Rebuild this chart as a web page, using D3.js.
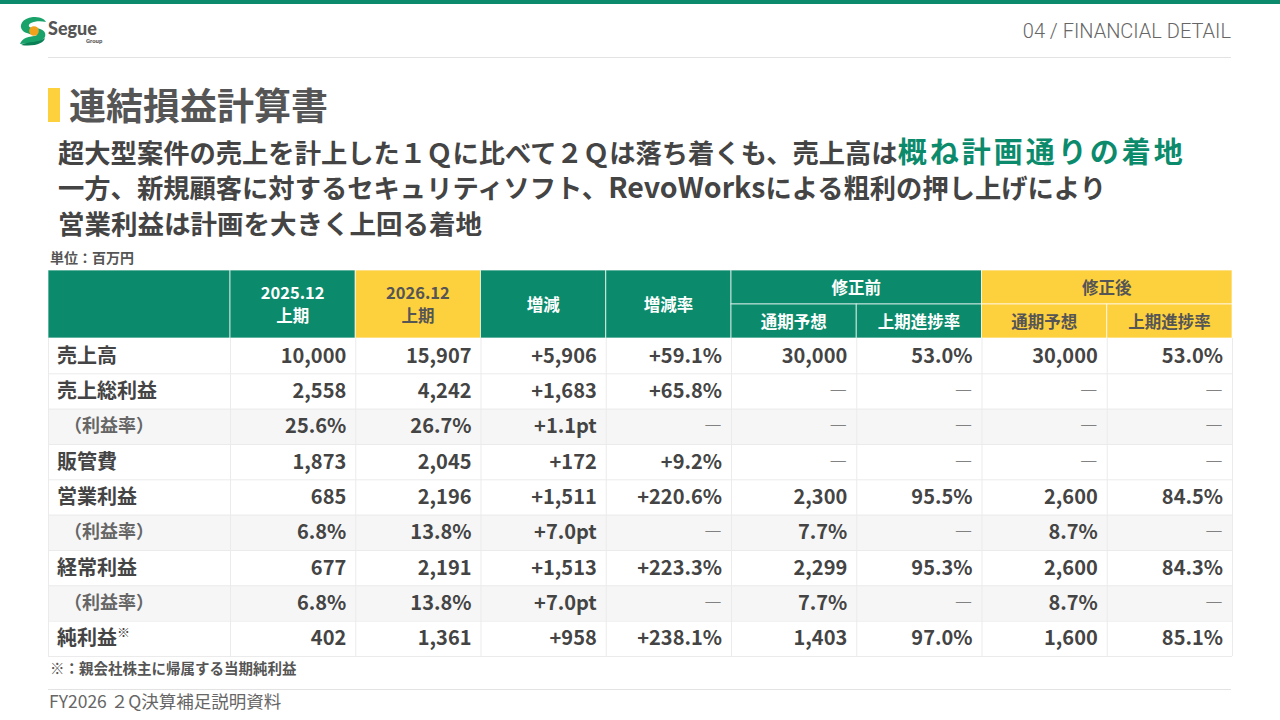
<!DOCTYPE html>
<html><head><meta charset="utf-8">
<script src="https://cdn.jsdelivr.net/npm/d3@7/dist/d3.min.js"></script>
<style>
html,body{margin:0;padding:0;background:#fff;}
svg{display:block;font-family:"Noto Sans CJK JP","Noto Sans",sans-serif;}
</style></head>
<body><svg id="c" width="1280" height="720"></svg>
<script>
// ---- data ----
const rowLabels = ["売上高","売上総利益","（利益率）","販管費","営業利益","（利益率）","経常利益","（利益率）","純利益"];
const rowKinds  = ["amt","amt","pct","amt","amt","pct","amt","pct","amt"];
const prevH1    = [10000, 2558, 25.6, 1873, 685, 6.8, 677, 6.8, 402];
const currH1    = [15907, 4242, 26.7, 2045, 2196, 13.8, 2191, 13.8, 1361];
const change    = [5906, 1683, 1.1, 172, 1511, 7.0, 1513, 7.0, 958];
const changeRate= [59.1, 65.8, null, 9.2, 220.6, null, 223.3, null, 238.1];
const beforeFcst= [30000, null, null, null, 2300, 7.7, 2299, 7.7, 1403];
const beforeProg= [53.0, null, null, null, 95.5, null, 95.3, null, 97.0];
const afterFcst = [30000, null, null, null, 2600, 8.7, 2600, 8.7, 1600];
const afterProg = [53.0, null, null, null, 84.5, null, 84.3, null, 85.1];
const colKeys = ["prev","curr","chg","rate","bf","bp","af","ap"];

const GREEN="#0b8b6c", YELLOW="#fdd03e", TXT="#444";
const svg=d3.select("#c");

// top bar
svg.append("rect").attr("x",0).attr("y",0).attr("width",1280).attr("height",4).attr("fill",GREEN);
// logo
const lg=svg.append("g").attr("transform","translate(18,16)");
lg.append("path").attr("d","M15,1 C4,2 0,10 5,15 C8,18 15,18 19,20 C11,20 4,22 2,28 C11,27 23,28 27,21 C29,15 23,12 15,12 C11,12 9,9 13,7 C17,5 23,5 28,6 C26,2 21,1 15,1 Z").attr("fill","#19a36b");
lg.append("path").attr("d","M3,29 C10,25 21,27 27,22 C26,27 17,31 3,29 Z").attr("fill","#0b7f55");
lg.append("circle").attr("cx",16).attr("cy",15).attr("r",4.8).attr("fill","#f0a21c");
lg.append("text").attr("x",30).attr("y",19).attr("font-size",18).attr("font-weight",900).attr("fill","#555").attr("font-family","Lato, Roboto, sans-serif").text("Segue");
lg.append("text").attr("x",68).attr("y",27).attr("font-size",6).attr("font-weight",700).attr("fill","#555").attr("font-family","Roboto, sans-serif").text("Group");

svg.append("text").attr("x",1231).attr("y",38).attr("text-anchor","end").attr("font-size",20).attr("fill","#666").attr("font-weight",300).attr("font-family","Roboto, 'Noto Sans', sans-serif").text("04 / FINANCIAL DETAIL");
svg.append("line").attr("x1",48).attr("x2",1231).attr("y1",57.5).attr("y2",57.5).attr("stroke","#e3e3e3");

// title
svg.append("rect").attr("x",48).attr("y",88).attr("width",12).attr("height",34).attr("fill",YELLOW);
svg.append("text").attr("x",69).attr("y",120).attr("font-size",37).attr("font-weight",700).attr("fill","#555").text("連結損益計算書");

// subtitle
const sub=[[["超大型案件の売上を計上した１Ｑに比べて２Ｑは落ち着くも、売上高は",TXT,26.3,0],["概ね計画通りの着地",GREEN,29,3]]
,[["一方、新規顧客に対するセキュリティソフト、",TXT,26.3,0],["RevoWorks",TXT,28.5,0],["による粗利の押し上げにより",TXT,26.3,0]]
,[["営業利益は計画を大きく上回る着地",TXT,26.5,0]]];
const subY=[163,198,234];
sub.forEach((ln,i)=>{
  const t=svg.append("text").attr("x",58).attr("y",subY[i]).attr("font-weight",700);
  ln.forEach(s=>t.append("tspan").attr("fill",s[1]).attr("font-size",s[2]).attr("letter-spacing",s[3]).text(s[0]));
});

svg.append("text").attr("x",50).attr("y",263).attr("font-size",14).attr("font-weight",700).attr("fill","#555").text("単位：百万円");

// table scales
const tableL=48, firstW=182, tableR=1232;
const x=d3.scaleBand().domain(colKeys).range([tableL+firstW,tableR]);
const y=d3.scaleBand().domain(d3.range(rowLabels.length)).range([338,656]);
const hTop=270, hMid=304, hBot=338;

// header cells
const hdr=[
 {x0:tableL,x1:x("prev"),y0:hTop,y1:hBot,fill:GREEN,lines:[]},
 {x0:x("prev"),x1:x("curr"),y0:hTop,y1:hBot,fill:GREEN,lines:["2025.12","上期"]},
 {x0:x("curr"),x1:x("chg"),y0:hTop,y1:hBot,fill:YELLOW,lines:["2026.12","上期"],dark:true},
 {x0:x("chg"),x1:x("rate"),y0:hTop,y1:hBot,fill:GREEN,lines:["増減"]},
 {x0:x("rate"),x1:x("bf"),y0:hTop,y1:hBot,fill:GREEN,lines:["増減率"]},
 {x0:x("bf"),x1:x("af"),y0:hTop,y1:hMid,fill:GREEN,lines:["修正前"]},
 {x0:x("bf"),x1:x("bp"),y0:hMid,y1:hBot,fill:GREEN,lines:["通期予想"]},
 {x0:x("bp"),x1:x("af"),y0:hMid,y1:hBot,fill:GREEN,lines:["上期進捗率"]},
 {x0:x("af"),x1:tableR,y0:hTop,y1:hMid,fill:YELLOW,lines:["修正後"],dark:true},
 {x0:x("af"),x1:x("ap"),y0:hMid,y1:hBot,fill:YELLOW,lines:["通期予想"],dark:true},
 {x0:x("ap"),x1:tableR,y0:hMid,y1:hBot,fill:YELLOW,lines:["上期進捗率"],dark:true}
];
const hg=svg.append("g");
hdr.forEach(h=>{
  hg.append("rect").attr("x",h.x0).attr("y",h.y0).attr("width",h.x1-h.x0).attr("height",h.y1-h.y0)
    .attr("fill",h.fill).attr("stroke","#fff").attr("stroke-opacity",0.7).attr("stroke-width",1);
  const cx=(h.x0+h.x1)/2, cy=(h.y0+h.y1)/2, n=h.lines.length;
  h.lines.forEach((s,i)=>{
    hg.append("text").attr("x",cx).attr("y",cy+(i-(n-1)/2)*23+6.5).attr("text-anchor","middle")
      .attr("font-size",16.5).attr("font-weight",700).attr("fill",h.dark?"#555":"#fff").text(s);
  });
});

// formatting
const fInt=d3.format(",");
function fmt(v,kind,col){
  if(v==null) return "―";
  const sign=(col==="chg"||col==="rate")?"+":"";
  if(col==="rate") return sign+v.toFixed(1)+"%";
  if(kind==="pct") return col==="chg"? sign+v.toFixed(1)+"pt" : v.toFixed(1)+"%";
  if(col==="bp"||col==="ap") return v.toFixed(1)+"%";
  return sign+fInt(v);
}
const cols={prev:prevH1,curr:currH1,chg:change,rate:changeRate,bf:beforeFcst,bp:beforeProg,af:afterFcst,ap:afterProg};

// body
const bg=svg.append("g");
rowLabels.forEach((lab,i)=>{
  const y0=y(i), h=y.bandwidth(), sub=rowKinds[i]==="pct";
  bg.append("rect").attr("x",tableL).attr("y",y0).attr("width",tableR-tableL).attr("height",h).attr("fill",sub?"#f6f6f6":"#fff");
});
// grid
const grid=svg.append("g").attr("stroke","#ebebeb").attr("stroke-width",1);
rowLabels.forEach((l,i)=>{ grid.append("line").attr("x1",tableL).attr("x2",tableR).attr("y1",y(i)+y.bandwidth()+0.5).attr("y2",y(i)+y.bandwidth()+0.5); });
[tableL].concat(colKeys.map(k=>x(k))).concat([tableR]).forEach(xx=>{ grid.append("line").attr("x1",xx+0.5).attr("x2",xx+0.5).attr("y1",hBot).attr("y2",656); });

const tg=svg.append("g");
rowLabels.forEach((lab,i)=>{
  const cy=y(i)+y.bandwidth()/2+7, sub=rowKinds[i]==="pct";
  const t=tg.append("text").attr("x",sub?64:57).attr("y",cy-(sub?1:0)).attr("font-size",sub?18:20).attr("font-weight",700).attr("fill",sub?"#666":TXT).text(lab);
  if(lab==="純利益") t.append("tspan").attr("font-size",13).attr("dy",-8).text("※");
  colKeys.forEach(k=>{
    const v=cols[k][i];
    tg.append("text").attr("x",x(k)+x.bandwidth()-9).attr("y",cy-(v==null?1:0)).attr("text-anchor","end")
      .attr("font-size",v==null?18:20).attr("font-weight",v==null?400:700).attr("fill",v==null?"#666":TXT)
      .text(fmt(v,rowKinds[i],k));
  });
});

svg.append("text").attr("x",50).attr("y",674).attr("font-size",14.5).attr("font-weight",700).attr("fill","#555").text("※：親会社株主に帰属する当期純利益");
svg.append("line").attr("x1",48).attr("x2",1231).attr("y1",689.5).attr("y2",689.5).attr("stroke","#e3e3e3");
svg.append("text").attr("x",49).attr("y",708).attr("font-size",17.5).attr("font-weight",400).attr("fill","#666").text("FY2026 ２Q決算補足説明資料");
</script></body></html>
